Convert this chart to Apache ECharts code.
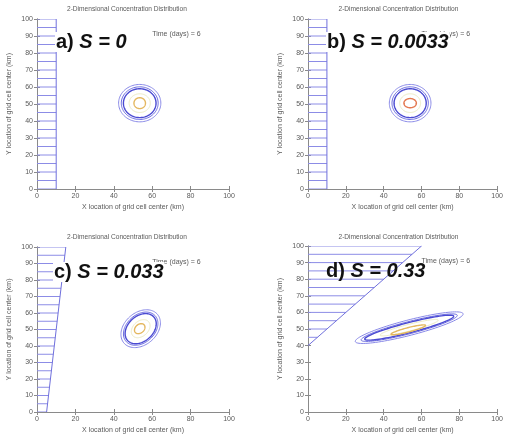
<!DOCTYPE html>
<html><head><meta charset="utf-8">
<script src="https://cdn.jsdelivr.net/npm/echarts@6/dist/echarts.min.js"></script>
<style>html,body{margin:0;padding:0;background:#fff}#c{width:506px;height:435px}</style>
</head><body><div id="c"></div>
<script>
// ---- data ----
const panelLetters = ['a)', 'b)', 'c)', 'd)'];
const sValues = ['0', '0.0033', '0.033', '0.33'];
const plotTitle = '2-Dimensional Concentration Distribution';
const xName = 'X location of grid cell center (km)';
const yName = 'Y location of grid cell center (km)';
const timeLabel = 'Time (days) = 6';
const timePos = [60, 91];
// boundary line endpoints [x,y]
const boundaryA = [[10, 0], [10, 100]];
const boundaryB = [[10, 0], [10, 100]];
const boundaryC = [[5, 0], [15, 100]];
const boundaryD = [[0, 40], [60, 100]];
// hatch line levels (y, km)
const hatchA = [0, 5, 10, 15, 20, 25, 30, 35, 40, 45, 50, 55, 60, 65, 70, 75, 80, 85, 90, 95, 100];
const hatchB = [0, 5, 10, 15, 20, 25, 30, 35, 40, 45, 50, 55, 60, 65, 70, 75, 80, 85, 90, 95, 100];
const hatchC = [0, 5, 10, 15, 20, 25, 30, 35, 40, 45, 50, 55, 60, 65, 70, 75, 80, 85, 90, 95, 100];
const hatchD = [45, 50, 55, 60, 65, 70, 75, 80, 85, 90, 95, 100];
// contours: [cx, cy, semiA, semiB, angleDeg, level]
const contoursA = [
  [53.5, 50.5, 11, 11, 0, 0],
  [53.5, 50.5, 9.6, 9.6, 0, 1],
  [53.5, 50.5, 8.5, 8.5, 0, 2],
  [53.5, 50.5, 5.5, 5.5, 0, 3],
  [53.5, 50.5, 3.0, 3.2, 0, 4]
];
const contoursB = [
  [54, 50.5, 11, 11, 0, 0],
  [54, 50.5, 9.6, 9.6, 0, 1],
  [54, 50.5, 8.5, 8.5, 0, 2],
  [54, 50.5, 5.5, 5.5, 0, 3],
  [54, 50.5, 3.3, 2.7, 0, 5]
];
const contoursC = [
  [54, 50.5, 12.5, 9, 55, 0],
  [54, 50.5, 11, 7.8, 55, 1],
  [54, 50.5, 10, 7, 55, 2],
  [54, 50.5, 6, 4.2, 55, 3],
  [53.5, 50.5, 3.3, 2.4, 55, 4]
];
const contoursD = [
  [53.5, 50.8, 29.7, 4.6, 16.5, 0],
  [53.5, 50.8, 26.5, 3.6, 16.5, 1],
  [53.5, 50.8, 24.5, 3.0, 16.5, 2],
  [53.5, 50.8, 16, 2.0, 16.5, 3],
  [53, 49.5, 9.5, 1.3, 16.5, 4]
];
const levelColors = ['#8a8ae8', '#6c6ce0', '#4a4ad2', '#ececc4', '#e4b860', '#e47a52'];
const levelWidths = [1, 1, 1.4, 1, 1.4, 1.4];

// ---- layout ----
const grids = [
  {left: 37, top: 19, width: 192, height: 170},
  {left: 308, top: 19, width: 193, height: 170},
  {left: 37, top: 247, width: 192, height: 171},
  {left: 308, top: 246, width: 193, height: 172}
];
const boundaries = [boundaryA, boundaryB, boundaryC, boundaryD];
const hatches = [hatchA, hatchB, hatchC, hatchD];
const contours = [contoursA, contoursB, contoursC, contoursD];
const labelPos = [[55, 42], [326, 42], [53, 272], [326, 271]];
const labelBg = ['#fff', '#fff', '#fff', null];

const axisColor = '#8a8a8a';
const labelColor = '#5a5a5a';
const xAxes = [], yAxes = [], series = [], graphics = [];

grids.forEach((g, i) => {
  const common = {gridIndex: i, min: 0, max: 100, splitLine: {show: false},
    axisLine: {lineStyle: {color: axisColor, width: 1}},
    axisTick: {inside: true, length: 3, lineStyle: {color: axisColor}}};
  xAxes.push(Object.assign({}, common, {type: 'value', position: 'bottom', interval: 20,
    axisLabel: {fontSize: 7, color: labelColor, margin: 4, fontFamily: 'Liberation Sans'},
    name: xName, nameLocation: 'middle', nameGap: 15,
    nameTextStyle: {fontSize: 7, color: labelColor, fontFamily: 'Liberation Sans'}}));
  xAxes.push(Object.assign({}, common, {type: 'value', position: 'top', interval: 20,
    axisLabel: {show: false}}));
  yAxes.push(Object.assign({}, common, {type: 'value', position: 'left', interval: 10,
    axisLabel: {fontSize: 7, color: labelColor, margin: 4, fontFamily: 'Liberation Sans'},
    name: yName, nameLocation: 'middle', nameGap: 24, nameRotate: 90,
    nameTextStyle: {fontSize: 7, color: labelColor, fontFamily: 'Liberation Sans'}}));
  yAxes.push(Object.assign({}, common, {type: 'value', position: 'right', interval: 10,
    axisLabel: {show: false}}));

  const b = boundaries[i];
  // hatch lines
  series.push({
    type: 'custom', xAxisIndex: 2 * i, yAxisIndex: 2 * i, silent: true, clip: true,
    data: hatches[i].map(y => [y]),
    renderItem: function (params, api) {
      const y = api.value(0);
      const xb = b[0][0] + (y - b[0][1]) * (b[1][0] - b[0][0]) / (b[1][1] - b[0][1]);
      const p1 = api.coord([0, y]);
      const p2 = api.coord([xb, y]);
      return {type: 'line', shape: {x1: p1[0], y1: p1[1], x2: p2[0], y2: p2[1]},
        style: {stroke: '#8c8ce6', lineWidth: 1}};
    }
  });
  // boundary
  series.push({
    type: 'line', xAxisIndex: 2 * i, yAxisIndex: 2 * i, data: b, showSymbol: false,
    symbol: 'none', lineStyle: {color: '#7070dc', width: 1}, silent: true, animation: false
  });
  // contours
  series.push({
    type: 'custom', xAxisIndex: 2 * i, yAxisIndex: 2 * i, silent: true, clip: true,
    data: contours[i],
    renderItem: function (params, api) {
      const cx = api.value(0), cy = api.value(1), a = api.value(2), bb = api.value(3);
      const ang = api.value(4) * Math.PI / 180, lvl = api.value(5);
      const pts = [];
      for (let k = 0; k < 96; k++) {
        const t = k / 96 * 2 * Math.PI;
        const u = a * Math.cos(t), v = bb * Math.sin(t);
        pts.push(api.coord([cx + u * Math.cos(ang) - v * Math.sin(ang),
                            cy + u * Math.sin(ang) + v * Math.cos(ang)]));
      }
      return {type: 'polygon', shape: {points: pts},
        style: {fill: 'none', stroke: levelColors[lvl], lineWidth: levelWidths[lvl]}};
    }
  });
  // time annotation
  series.push({
    type: 'custom', xAxisIndex: 2 * i, yAxisIndex: 2 * i, silent: true,
    data: [[timePos[0], timePos[1]]],
    renderItem: function (params, api) {
      const p = api.coord([api.value(0), api.value(1)]);
      return {type: 'text', x: p[0], y: p[1],
        style: {text: timeLabel, fontSize: 7, fill: '#5a5a5a', fontFamily: 'Liberation Sans',
          align: 'left', verticalAlign: 'middle'}};
    }
  });
  // title
  graphics.push({type: 'text', left: g.left + g.width / 2 - 66, top: i < 2 ? 6 : 234,
    style: {text: plotTitle, fontSize: 6.6, fill: '#5a5a5a', fontFamily: 'Liberation Sans'}});
  // big panel label
  const st = {text: '{l|' + panelLetters[i] + ' }{s|S = ' + sValues[i] + '}',
      verticalAlign: 'middle', align: 'left',
      rich: {
        l: {fontSize: 20, fontWeight: 'bold', fill: '#111', fontFamily: 'Liberation Sans'},
        s: {fontSize: 20, fontWeight: 'bold', fontStyle: 'italic', fill: '#111', fontFamily: 'Liberation Sans'}
      }};
  if (labelBg[i]) { st.backgroundColor = labelBg[i]; st.padding = [0, 1, 0, 1]; }
  graphics.push({type: 'text', x: labelPos[i][0], y: labelPos[i][1], z: 100, style: st});
});

const chart = echarts.init(document.getElementById('c'), null, {renderer: 'canvas'});
chart.setOption({
  backgroundColor: '#fff', animation: false,
  grid: grids, xAxis: xAxes, yAxis: yAxes, series: series, graphic: graphics
});
</script></body></html>
